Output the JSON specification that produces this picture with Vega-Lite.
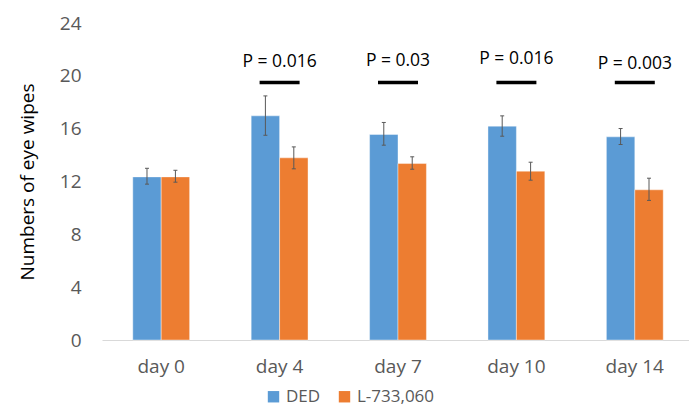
{
  "$schema": "https://vega.github.io/schema/vega-lite/v6.json",
  "width": 587,
  "height": 317,
  "autosize": {"type": "none"},
  "padding": {"left": 102, "top": 23, "right": 0, "bottom": 71},
  "config": {"view": {"stroke": null}, "font": "Open Sans"},
  "datasets": {
    "bars": [
      {"day": "day 0", "group": "DED", "value": 12.35, "lo": 11.8, "hi": 13.0},
      {"day": "day 0", "group": "L-733,060", "value": 12.35, "lo": 11.95, "hi": 12.85},
      {"day": "day 4", "group": "DED", "value": 16.97, "lo": 15.5, "hi": 18.48},
      {"day": "day 4", "group": "L-733,060", "value": 13.79, "lo": 12.96, "hi": 14.62},
      {"day": "day 7", "group": "DED", "value": 15.56, "lo": 14.75, "hi": 16.47},
      {"day": "day 7", "group": "L-733,060", "value": 13.36, "lo": 12.93, "hi": 13.87},
      {"day": "day 10", "group": "DED", "value": 16.19, "lo": 15.43, "hi": 16.97},
      {"day": "day 10", "group": "L-733,060", "value": 12.78, "lo": 12.1, "hi": 13.46},
      {"day": "day 14", "group": "DED", "value": 15.38, "lo": 14.8, "hi": 16.01},
      {"day": "day 14", "group": "L-733,060", "value": 11.37, "lo": 10.57, "hi": 12.25}
    ],
    "pvals": [
      {"day": "day 4", "label": "P = 0.016", "ty": 21.08, "ly": 19.5},
      {"day": "day 7", "label": "P = 0.03", "ty": 21.14, "ly": 19.5},
      {"day": "day 10", "label": "P = 0.016", "ty": 21.29, "ly": 19.5},
      {"day": "day 14", "label": "P = 0.003", "ty": 20.9, "ly": 19.5}
    ]
  },
  "layer": [
    {
      "data": {"name": "bars"},
      "mark": {"type": "bar", "stroke": "#ffffff", "strokeOpacity": 0.4, "strokeWidth": 1},
      "encoding": {
        "x": {
          "field": "day", "type": "nominal",
          "sort": ["day 0", "day 4", "day 7", "day 10", "day 14"],
          "scale": {"paddingInner": 0.52, "paddingOuter": 0.26, "range": [0, 592]},
          "axis": {"title": null, "labelAngle": 0, "domainColor": "#D9D9D9", "ticks": false, "labelFontSize": 19, "labelColor": "#595959", "labelPadding": 17}
        },
        "xOffset": {"field": "group", "type": "nominal", "sort": ["DED", "L-733,060"]},
        "y": {
          "field": "value", "type": "quantitative",
          "scale": {"domain": [0, 24]},
          "axis": {"values": [0, 4, 8, 12, 16, 20, 24], "grid": false, "domain": false, "ticks": false, "labelFontSize": 19, "labelColor": "#595959", "labelPadding": 21, "title": "Numbers of eye wipes", "titleFontSize": 19, "titleFontWeight": "normal", "titleColor": "#000000", "titlePadding": 22}
        },
        "color": {
          "field": "group", "type": "nominal",
          "scale": {"domain": ["DED", "L-733,060"], "range": ["#5B9BD5", "#ED7D31"]},
          "legend": {"orient": "none", "legendX": 163, "legendY": 365, "direction": "horizontal", "title": null, "symbolType": "square", "symbolSize": 130, "symbolStrokeWidth": 0, "labelFontSize": 17, "labelColor": "#595959", "columnPadding": 15, "labelOffset": 4}
        }
      }
    },
    {
      "data": {"name": "bars"},
      "mark": {"type": "rule", "color": "#595959", "strokeWidth": 1},
      "encoding": {
        "x": {"field": "day", "type": "nominal", "sort": ["day 0", "day 4", "day 7", "day 10", "day 14"]},
        "xOffset": {"field": "group", "type": "nominal", "sort": ["DED", "L-733,060"]},
        "y": {"field": "lo", "type": "quantitative"},
        "y2": {"field": "hi"}
      }
    },
    {
      "data": {"name": "bars"},
      "mark": {"type": "tick", "color": "#595959", "opacity": 1, "size": 4, "thickness": 1},
      "encoding": {
        "x": {"field": "day", "type": "nominal", "sort": ["day 0", "day 4", "day 7", "day 10", "day 14"]},
        "xOffset": {"field": "group", "type": "nominal", "sort": ["DED", "L-733,060"]},
        "y": {"field": "lo", "type": "quantitative"}
      }
    },
    {
      "data": {"name": "bars"},
      "mark": {"type": "tick", "color": "#595959", "opacity": 1, "size": 4, "thickness": 1},
      "encoding": {
        "x": {"field": "day", "type": "nominal", "sort": ["day 0", "day 4", "day 7", "day 10", "day 14"]},
        "xOffset": {"field": "group", "type": "nominal", "sort": ["DED", "L-733,060"]},
        "y": {"field": "hi", "type": "quantitative"}
      }
    },
    {
      "data": {"name": "pvals"},
      "mark": {"type": "tick", "color": "#000000", "opacity": 1, "size": 40, "thickness": 3.5},
      "encoding": {
        "x": {"field": "day", "type": "nominal", "sort": ["day 0", "day 4", "day 7", "day 10", "day 14"]},
        "y": {"field": "ly", "type": "quantitative"}
      }
    },
    {
      "data": {"name": "pvals"},
      "mark": {"type": "text", "color": "#000000", "fontSize": 17.5, "baseline": "middle", "align": "center"},
      "encoding": {
        "x": {"field": "day", "type": "nominal", "sort": ["day 0", "day 4", "day 7", "day 10", "day 14"]},
        "y": {"field": "ty", "type": "quantitative"},
        "text": {"field": "label"}
      }
    }
  ]
}
